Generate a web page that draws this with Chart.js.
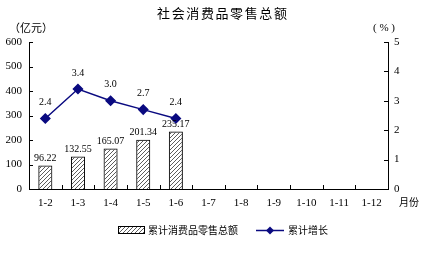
<!DOCTYPE html>
<html>
<head>
<meta charset="utf-8">
<script src="https://cdn.jsdelivr.net/npm/chart.js@4"></script>
<style>
  html, body { margin: 0; padding: 0; background: #fff; }
  #wrap { width: 436px; height: 266px; }
</style>
</head>
<body>
<div id="wrap"><canvas id="c" width="436" height="266"></canvas></div>
<script>
// 数据
const months = ['1-2', '1-3', '1-4', '1-5', '1-6', '1-7', '1-8', '1-9', '1-10', '1-11', '1-12'];
const retailTotal = [96.22, 132.55, 165.07, 201.34, 235.17, null, null, null, null, null, null];
const growthRate = [2.4, 3.4, 3.0, 2.7, 2.4, null, null, null, null, null, null];
const leftTicks = [0, 100, 200, 300, 400, 500, 600];
const rightTicks = [0, 1, 2, 3, 4, 5];

const serif = '"Liberation Serif", "DejaVu Serif", serif';
const cjk = '"Noto Sans CJK SC", sans-serif';
const navy = '#0a0a80';

// 斜线填充
function hatch() {
    const p = document.createElement('canvas');
    p.width = 4; p.height = 4;
    const g = p.getContext('2d');
    g.strokeStyle = '#333';
    g.lineWidth = 0.8;
    g.beginPath();
    g.moveTo(0, 4); g.lineTo(4, 0);
    g.moveTo(-1, 1); g.lineTo(1, -1);
    g.moveTo(3, 5); g.lineTo(5, 3);
    g.stroke();
    return document.getElementById('c').getContext('2d').createPattern(p, 'repeat');
}
const hatchFill = hatch();

// 逐字绘制（带字距）
function spaced(ctx, text, cx, cy, gap) {
    const ws = [...text].map(ch => ctx.measureText(ch).width);
    const total = ws.reduce((a, b) => a + b, 0) + gap * (ws.length - 1);
    let px = cx - total / 2;
    ctx.textAlign = 'left';
    [...text].forEach((ch, i) => { ctx.fillText(ch, px, cy); px += ws[i] + gap; });
}

const extras = {
    id: 'extras',
    afterDraw(chart) {
        const ctx = chart.ctx;
        const x = chart.scales.x, y = chart.scales.y, y1 = chart.scales.y1;
        ctx.save();
        ctx.strokeStyle = '#000';
        ctx.lineWidth = 1;
        // 刻度线（向内）
        ctx.beginPath();
        leftTicks.forEach(v => {
            const py = Math.round(y.getPixelForValue(v)) + 0.5;
            ctx.moveTo(x.left, py); ctx.lineTo(x.left + 4, py);
        });
        rightTicks.forEach(v => {
            const py = Math.round(y1.getPixelForValue(v)) + 0.5;
            ctx.moveTo(x.right, py); ctx.lineTo(x.right - 4, py);
        });
        const step = (x.right - x.left) / months.length;
        for (let i = 1; i < months.length; i++) {
            const px = Math.round(x.left + step * i) + 0.5;
            ctx.moveTo(px, y.bottom); ctx.lineTo(px, y.bottom - 4);
        }
        ctx.stroke();

        // 数值标签
        ctx.fillStyle = '#000';
        ctx.font = '10px ' + serif;
        ctx.textAlign = 'center';
        ctx.textBaseline = 'bottom';
        chart.getDatasetMeta(0).data.forEach((bar, i) => {
            if (retailTotal[i] == null) return;
            ctx.fillText(retailTotal[i].toFixed(2), bar.x, bar.y - 2);
        });
        chart.getDatasetMeta(1).data.forEach((pt, i) => {
            if (growthRate[i] == null) return;
            ctx.fillText(growthRate[i].toFixed(1), pt.x, pt.y - 11);
        });

        // 标题与单位
        ctx.font = '13px ' + cjk;
        ctx.textBaseline = 'middle';
        spaced(ctx, '社会消费品零售总额', 222, 13, 1.6);
        ctx.font = '11px ' + cjk;
        ctx.textAlign = 'left';
        ctx.fillText('（亿元）', 9, 28);
        ctx.font = '11px ' + serif;
        ctx.fillText('( % )', 373, 28);
        ctx.font = '10px ' + cjk;
        ctx.fillText('月份', 399, 202);

        // 图例
        ctx.fillStyle = hatchFill;
        ctx.fillRect(118, 226, 26, 7);
        ctx.strokeStyle = '#000';
        ctx.strokeRect(118.5, 226.5, 26, 7);
        ctx.fillStyle = '#000';
        ctx.fillText('累计消费品零售总额', 148, 230);
        ctx.strokeStyle = navy;
        ctx.lineWidth = 1.5;
        ctx.beginPath();
        ctx.moveTo(256, 230.5); ctx.lineTo(284, 230.5);
        ctx.stroke();
        ctx.fillStyle = navy;
        ctx.beginPath();
        ctx.moveTo(270, 226.5); ctx.lineTo(274, 230.5); ctx.lineTo(270, 234.5); ctx.lineTo(266, 230.5);
        ctx.closePath(); ctx.fill();
        ctx.fillStyle = '#000';
        ctx.fillText('累计增长', 288, 230);
        ctx.restore();
    }
};

new Chart(document.getElementById('c'), {
    data: {
        labels: months,
        datasets: [
            {
                type: 'bar',
                label: '累计消费品零售总额',
                data: retailTotal,
                backgroundColor: hatchFill,
                borderColor: '#000',
                borderWidth: 1,
                barPercentage: 0.43,
                categoryPercentage: 1,
                yAxisID: 'y',
                order: 2
            },
            {
                type: 'line',
                label: '累计增长',
                data: growthRate,
                borderColor: navy,
                backgroundColor: navy,
                borderWidth: 1.5,
                pointStyle: 'rectRot',
                pointRadius: 4.5,
                pointHoverRadius: 4.5,
                tension: 0,
                yAxisID: 'y1',
                order: 1
            }
        ]
    },
    options: {
        responsive: false,
        animation: false,
        layout: { padding: { top: 42, left: 0, right: 0, bottom: 0 } },
        plugins: { legend: { display: false }, tooltip: { enabled: false } },
        scales: {
            x: {
                grid: { display: false, drawTicks: false },
                border: { display: true, color: '#000', width: 1 },
                ticks: { color: '#000', font: { family: serif, size: 11 }, padding: 8, maxRotation: 0, autoSkip: false },
                afterFit: s => { s.height = 77; }
            },
            y: {
                position: 'left',
                min: 0, max: 600,
                afterBuildTicks: s => { s.ticks = leftTicks.map(v => ({ value: v })); },
                grid: { display: false, drawTicks: false },
                border: { display: true, color: '#000', width: 1 },
                ticks: { color: '#000', font: { family: serif, size: 11 }, padding: 7 },
                afterFit: s => { s.width = 29; }
            },
            y1: {
                position: 'right',
                min: 0, max: 5,
                afterBuildTicks: s => { s.ticks = rightTicks.map(v => ({ value: v })); },
                grid: { display: false, drawTicks: false },
                border: { display: true, color: '#000', width: 1 },
                ticks: { color: '#000', font: { family: serif, size: 11 }, padding: 6 },
                afterFit: s => { s.width = 48; }
            }
        }
    },
    plugins: [extras]
});
</script>
</body>
</html>
